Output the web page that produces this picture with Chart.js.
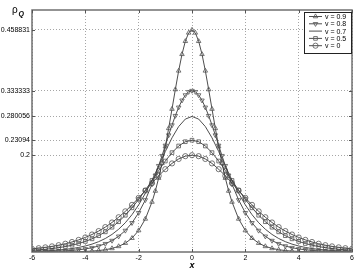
<!DOCTYPE html>
<html>
<head>
<meta charset="utf-8">
<script src="https://cdn.jsdelivr.net/npm/chart.js@4.4.1/dist/chart.umd.min.js"></script>
<style>
  html, body { margin: 0; padding: 0; background: #fff; }
  #wrap { width: 360px; height: 273px; }
</style>
</head>
<body>
<div id="wrap"><canvas id="rhoChart" width="360" height="273"></canvas></div>
<script>
// x positions (fine grid near the peak for the two narrowest curves)
const xCoarse = [-6,-5.75,-5.5,-5.25,-5,-4.75,-4.5,-4.25,-4,-3.75,-3.5,-3.25,-3,-2.75,-2.5,-2.25,-2,-1.75,-1.5,-1.25,-1,-0.75,-0.5,-0.25,
  0,0.25,0.5,0.75,1,1.25,1.5,1.75,2,2.25,2.5,2.75,3,3.25,3.5,3.75,4,4.25,4.5,4.75,5,5.25,5.5,5.75,6];
const xFine = [-6,-5.75,-5.5,-5.25,-5,-4.75,-4.5,-4.25,-4,-3.75,-3.5,-3.25,-3,-2.75,-2.5,-2.25,-2,-1.75,-1.5,
  -1.375,-1.25,-1.125,-1,-0.875,-0.75,-0.625,-0.5,-0.375,-0.25,-0.125,0,0.125,0.25,0.375,0.5,0.625,0.75,0.875,1,1.125,1.25,1.375,
  1.5,1.75,2,2.25,2.5,2.75,3,3.25,3.5,3.75,4,4.25,4.5,4.75,5,5.25,5.5,5.75,6];

// rho_Q(x) for each velocity
const rho09 = [0.00003,0.00005,0.00008,0.00012,0.00019,0.00030,0.00048,0.00075,0.00119,0.00188,0.00297,0.00469,0.00740,0.01165,0.01829,0.02860,0.04444,0.06832,0.10338,0.12611,0.15273,0.18335,0.21780,0.25550,0.29538,0.33574,0.37434,0.40852,0.43550,0.45285,
  0.458831,
  0.45285,0.43550,0.40852,0.37434,0.33574,0.29538,0.25550,0.21780,0.18335,0.15273,0.12611,0.10338,0.06832,0.04444,0.02860,0.01829,0.01165,0.00740,0.00469,0.00297,0.00188,0.00119,0.00075,0.00048,0.00030,0.00019,0.00012,0.00008,0.00005,0.00003];
const rho08 = [0.00045,0.00062,0.00087,0.00121,0.00169,0.00236,0.00329,0.00458,0.00638,0.00886,0.01231,0.01705,0.02355,0.03241,0.04435,0.06024,0.08100,0.10744,0.13999,0.15845,0.17817,0.19886,0.22012,0.24143,0.26215,0.28156,0.29888,0.31334,0.32424,0.33103,
  0.333333,
  0.33103,0.32424,0.31334,0.29888,0.28156,0.26215,0.24143,0.22012,0.19886,0.17817,0.15845,0.13999,0.10744,0.08100,0.06024,0.04435,0.03241,0.02355,0.01705,0.01231,0.00886,0.00638,0.00458,0.00329,0.00236,0.00169,0.00121,0.00087,0.00062,0.00045];
const rho07 = [0.00135,0.00178,0.00236,0.00311,0.00411,0.00542,0.00715,0.00942,0.01240,0.01629,0.02135,0.02790,0.03632,0.04703,0.06051,0.07718,0.09738,0.12120,0.14830,0.17773,0.20777,0.23592,0.25919,0.27464,
  0.280056,
  0.27464,0.25919,0.23592,0.20777,0.17773,0.14830,0.12120,0.09738,0.07718,0.06051,0.04703,0.03632,0.02790,0.02135,0.01629,0.01240,0.00942,0.00715,0.00542,0.00411,0.00311,0.00236,0.00178,0.00135];
const rho05 = [0.00359,0.00451,0.00567,0.00712,0.00894,0.01120,0.01402,0.01752,0.02185,0.02719,0.03371,0.04165,0.05120,0.06257,0.07592,0.09130,0.10866,0.12769,0.14786,0.16832,0.18792,0.20530,0.21905,0.22789,
  0.23094,
  0.22789,0.21905,0.20530,0.18792,0.16832,0.14786,0.12769,0.10866,0.09130,0.07592,0.06257,0.05120,0.04165,0.03371,0.02719,0.02185,0.01752,0.01402,0.01120,0.00894,0.00712,0.00567,0.00451,0.00359];
const rho00 = [0.00648,0.00788,0.00959,0.01164,0.01413,0.01712,0.02071,0.02500,0.03011,0.03614,0.04323,0.05149,0.06100,0.07184,0.08399,0.09738,0.11181,0.12695,0.14232,0.15729,0.17113,0.18303,0.19221,0.19801,
  0.2,
  0.19801,0.19221,0.18303,0.17113,0.15729,0.14232,0.12695,0.11181,0.09738,0.08399,0.07184,0.06100,0.05149,0.04323,0.03614,0.03011,0.02500,0.02071,0.01712,0.01413,0.01164,0.00959,0.00788,0.00648];

const seriesNames = ['v = 0.9', 'v = 0.8', 'v = 0.7', 'v = 0.5', 'v = 0'];
const yTickValues = [0.2, 0.23094, 0.280056, 0.333333, 0.458831];
const yTickLabels = ['0.2', '0.23094', '0.280056', '0.333333', '0.458831'];
const xTickValues = [-6, -4, -2, 0, 2, 4, 6];

const FONT = '"Liberation Sans", Arial, sans-serif';
const LINE = '#3a3a3a';
const MARK = '#555';

function pts(xs, ys) {
  return xs.map((x, i) => ({ x: x, y: ys[i] }));
}

function series(label, xs, ys, style, rot) {
  return {
    label: label,
    data: pts(xs, ys),
    borderColor: LINE,
    borderWidth: 0.9,
    backgroundColor: 'rgba(0,0,0,0)',
    pointStyle: style || 'circle',
    pointRotation: rot || 0,
    pointRadius: style ? 2.6 : 0,
    pointBorderColor: MARK,
    pointBorderWidth: 0.8,
    pointBackgroundColor: 'rgba(0,0,0,0)',
    tension: 0
  };
}

// box, inward ticks, y label and the boxed legend
const decor = {
  id: 'decor',
  beforeDatasetsDraw(chart) {
    const { ctx, chartArea: a } = chart;
    ctx.save();
    ctx.fillStyle = '#fff';
    ctx.restore();
  },
  afterDraw(chart) {
    const { ctx, chartArea: a, scales } = chart;
    ctx.save();
    ctx.strokeStyle = '#707070';
    ctx.lineWidth = 1.5;
    ctx.strokeRect(a.left, a.top, a.right - a.left, a.bottom - a.top);

    ctx.strokeStyle = '#555';
    ctx.lineWidth = 1;
    ctx.beginPath();
    xTickValues.forEach(v => {
      const px = Math.round(scales.x.getPixelForValue(v)) + 0.5;
      ctx.moveTo(px, a.bottom); ctx.lineTo(px, a.bottom - 3);
      ctx.moveTo(px, a.top); ctx.lineTo(px, a.top + 3);
    });
    yTickValues.forEach(v => {
      const py = Math.round(scales.y.getPixelForValue(v)) + 0.5;
      ctx.moveTo(a.left, py); ctx.lineTo(a.left + 3, py);
      ctx.moveTo(a.right, py); ctx.lineTo(a.right - 3, py);
    });
    ctx.stroke();

    // y axis label rho_Q
    ctx.fillStyle = '#000';
    ctx.textBaseline = 'alphabetic';
    ctx.font = '10px ' + FONT;
    ctx.fillText('ρ', 12, 13);
    ctx.font = 'bold italic 7px ' + FONT;
    ctx.fillText('Q', 18.5, 16);

    // legend
    const bx = 304, by = 12, bw = 47, bh = 41;
    ctx.fillStyle = '#fff';
    ctx.fillRect(bx, by, bw, bh);
    ctx.strokeStyle = '#222';
    ctx.lineWidth = 1;
    ctx.strokeRect(bx + 0.5, by + 0.5, bw, bh);
    ctx.font = '7px ' + FONT;
    ctx.textBaseline = 'middle';
    chart.data.datasets.forEach((ds, i) => {
      const cy = by + 4.5 + i * 7.3;
      ctx.strokeStyle = LINE;
      ctx.lineWidth = 0.9;
      ctx.beginPath();
      ctx.moveTo(bx + 5, cy); ctx.lineTo(bx + 18, cy);
      ctx.stroke();
      if (ds.pointRadius > 0) {
        ctx.strokeStyle = MARK;
        ctx.fillStyle = 'rgba(0,0,0,0)';
        ctx.lineWidth = 0.8;
        Chart.helpers.drawPoint(ctx, {
          pointStyle: ds.pointStyle, rotation: ds.pointRotation,
          radius: 2.6, borderWidth: 0.8
        }, bx + 11.5, cy);
      }
      ctx.fillStyle = '#000';
      ctx.fillText(seriesNames[i], bx + 21, cy + 0.5);
    });
    ctx.restore();
  }
};

new Chart(document.getElementById('rhoChart'), {
  type: 'line',
  data: {
    datasets: [
      series(seriesNames[0], xFine, rho09, 'triangle', 0),
      series(seriesNames[1], xFine, rho08, 'triangle', 180),
      series(seriesNames[2], xCoarse, rho07, null, 0),
      series(seriesNames[3], xCoarse, rho05, 'rect', 0),
      series(seriesNames[4], xCoarse, rho00, 'circle', 0)
    ]
  },
  options: {
    responsive: false,
    animation: false,
    layout: { padding: { top: 10, right: 8, left: 0, bottom: 0 } },
    plugins: { legend: { display: false }, tooltip: { enabled: false } },
    scales: {
      x: {
        type: 'linear',
        min: -6, max: 6,
        afterFit: s => { s.height = 21; },
        afterBuildTicks: s => { s.ticks = xTickValues.map(v => ({ value: v })); },
        ticks: { font: { family: FONT, size: 7 }, color: '#000', padding: 2, maxRotation: 0 },
        grid: { color: 'rgba(0,0,0,0.35)', lineWidth: 1, drawTicks: false },
        border: { display: false, dash: [1, 2] },
        title: { display: true, text: 'x', color: '#000', font: { family: FONT, size: 9, style: 'italic', weight: 'bold' }, padding: { top: 0, bottom: 2 } }
      },
      y: {
        min: 0, max: 0.5,
        afterFit: s => { s.width = 32; },
        afterBuildTicks: s => { s.ticks = yTickValues.map(v => ({ value: v })); },
        ticks: {
          font: { family: FONT, size: 7 }, color: '#000', padding: 2,
          callback: (v) => { const i = yTickValues.indexOf(v); return i >= 0 ? yTickLabels[i] : ''; }
        },
        grid: { color: 'rgba(0,0,0,0.35)', lineWidth: 1, drawTicks: false },
        border: { display: false, dash: [1, 2] }
      }
    }
  },
  plugins: [decor]
});
</script>
</body>
</html>
